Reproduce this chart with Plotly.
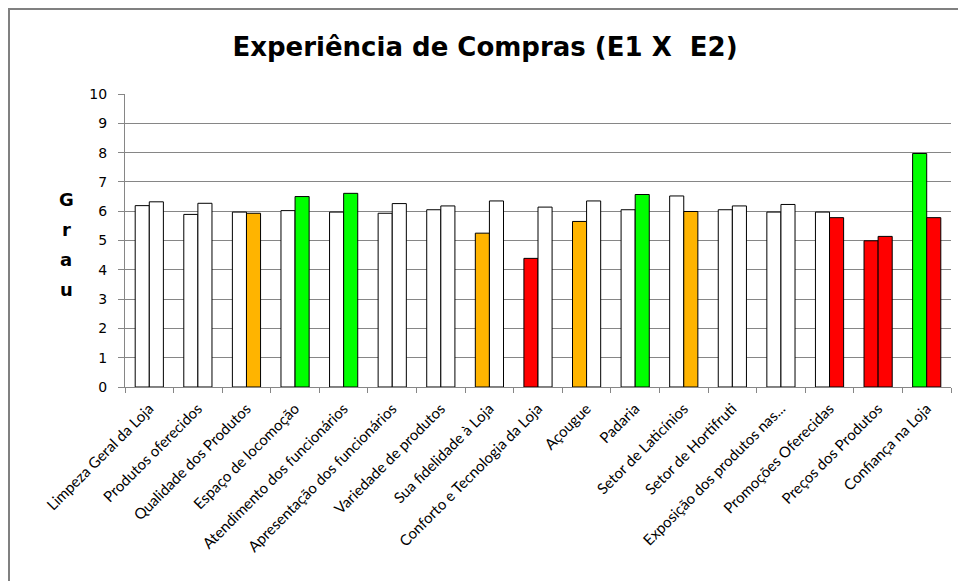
import plotly.graph_objects as go

categories = [
    "Limpeza Geral da Loja", "Produtos oferecidos", "Qualidade dos Produtos",
    "Espaço de locomoção", "Atendimento dos funcionários", "Apresentação dos funcionários",
    "Variedade de produtos", "Sua fidelidade à Loja", "Conforto e Tecnologia da Loja",
    "Açougue", "Padaria", "Setor de Laticínios", "Setor de Hortifruti",
    "Exposição dos produtos nas...", "Promoções Oferecidas", "Preços dos Produtos",
    "Confiança na Loja",
]
e1_values = [6.19, 5.89, 5.97, 6.02, 5.97, 5.93, 6.05, 5.25, 4.39, 5.65, 6.05, 6.52,
             6.05, 5.97, 5.97, 4.99, 7.97]
e2_values = [6.32, 6.27, 5.93, 6.50, 6.61, 6.26, 6.18, 6.35, 6.14, 6.35, 6.57, 5.99,
             6.18, 6.23, 5.78, 5.14, 5.78]

W, O, G, R = "#FFFFFF", "#FFB400", "#00FF00", "#FF0000"
e1_colors = [W, W, W, W, W, W, W, O, R, O, W, W, W, W, W, R, G]
e2_colors = [W, W, O, G, G, W, W, W, W, W, G, O, W, W, R, R, R]

fig = go.Figure()
fig.add_trace(go.Bar(x=categories, y=e1_values, name="E1",
                     marker=dict(color=e1_colors, line=dict(color="#000000", width=1))))
fig.add_trace(go.Bar(x=categories, y=e2_values, name="E2",
                     marker=dict(color=e2_colors, line=dict(color="#000000", width=1))))

FW, FH = 958, 581
L, T = 125, 94
PR, PB = 951, 387
Rr, B = FW - PR, FH - PB
PW, PH = PR - L, PB - T

def px_x(p):
    return (p - L) / PW

def px_y(p):
    return (PB - p) / PH

fig.update_layout(
    width=FW, height=FH,
    margin=dict(l=L, r=Rr, t=T, b=B, pad=0),
    paper_bgcolor="white", plot_bgcolor="white",
    showlegend=False,
    barmode="group", bargap=0.42, bargroupgap=0,
    title=dict(text="<b>Experiência de Compras (E1 X  E2)</b>", x=485 / FW,
               xanchor="center", y=1 - 47 / FH, yanchor="middle",
               font=dict(family="DejaVu Sans", size=26, color="#000000")),
    xaxis=dict(showgrid=False, showline=True, linecolor="#868686", linewidth=1,
               ticks="outside", tickson="boundaries", ticklen=5, tickcolor="#868686",
               tickangle=-45, ticklabelstandoff=6,
               tickfont=dict(family="Lato", size=15, color="#000000")),
    yaxis=dict(range=[0, 10], dtick=1, showgrid=True, gridcolor="#868686", gridwidth=1,
               showline=True, linecolor="#868686", linewidth=1, ticks="outside",
               ticklen=6, tickcolor="#868686", zeroline=False, ticklabelstandoff=8,
               tickfont=dict(family="DejaVu Sans", size=14, color="#000000")),
    shapes=[dict(type="rect", xref="paper", yref="paper",
                 x0=px_x(9), x1=px_x(1000), y0=px_y(9), y1=px_y(640),
                 line=dict(color="#808080", width=2), fillcolor="rgba(0,0,0,0)")],
)

for i, ch in enumerate("Grau"):
    fig.add_annotation(text=f"<b>{ch}</b>", xref="paper", yref="paper",
                       x=px_x(66), y=px_y(199 + i * 30), showarrow=False,
                       xanchor="center", yanchor="middle",
                       font=dict(family="DejaVu Sans", size=18, color="#000000"))

fig.write_html("out.html", config={"displayModeBar": False},
               post_script="document.body.style.margin='0';"
                           "document.body.style.overflow='hidden';")
